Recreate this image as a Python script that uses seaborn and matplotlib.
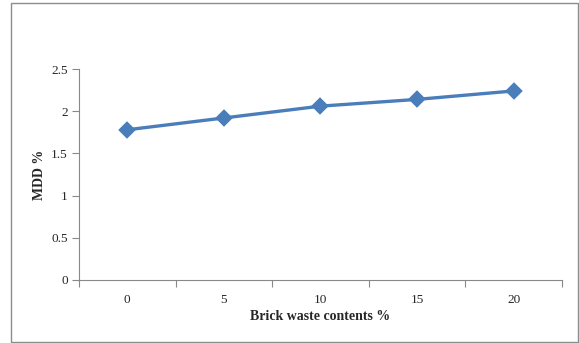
import seaborn as sns
import matplotlib.pyplot as plt
import matplotlib.patches as patches
from matplotlib.ticker import FixedLocator
import pandas as pd

contents = ["0", "5", "10", "15", "20"]
mdd = [1.78, 1.92, 2.06, 2.14, 2.24]

df = pd.DataFrame({"content": contents, "mdd": mdd})

sns.set_style("white")
plt.rcParams["font.family"] = ["Liberation Serif", "DejaVu Serif"]

fig = plt.figure(figsize=(5.79, 3.43), dpi=100)
ax = fig.add_axes([0.1364, 0.1837, 0.8342, 0.6151])

sns.pointplot(data=df, x="content", y="mdd", ax=ax, color="#4A7EBB",
              markers="D", linestyles="-", markersize=7, linewidth=2.4)

ax.set_xlim(-0.5, 4.5)
ax.set_ylim(0, 2.5)
ax.set_yticks([0, 0.5, 1, 1.5, 2, 2.5], ["0", "0.5", "1", "1.5", "2", "2.5"])

ax.xaxis.set_minor_locator(FixedLocator([-0.5, 0.5, 1.5, 2.5, 3.5, 4.5]))
ax.tick_params(axis="x", which="major", length=0, pad=10, labelsize=9.5)
ax.tick_params(axis="x", which="minor", length=5, width=0.8, color="#888888", direction="out", bottom=True)
ax.tick_params(axis="y", length=5, width=0.8, color="#888888", direction="out", left=True, labelsize=9.5, pad=3)

for s in ["top", "right"]:
    ax.spines[s].set_visible(False)
for s in ["left", "bottom"]:
    ax.spines[s].set_color("#888888")
    ax.spines[s].set_linewidth(0.8)

ax.set_xlabel("Brick waste contents %", fontsize=10, fontweight="bold", labelpad=3)
ax.set_ylabel("MDD %", fontsize=10, fontweight="bold", labelpad=4)

border = patches.Rectangle((11 / 579, 1 / 343), 567 / 579, 339 / 343, transform=fig.transFigure,
                           fill=False, edgecolor="#8c8c8c", linewidth=1.0)
fig.patches.append(border)

fig.savefig("out.png", dpi=100)
